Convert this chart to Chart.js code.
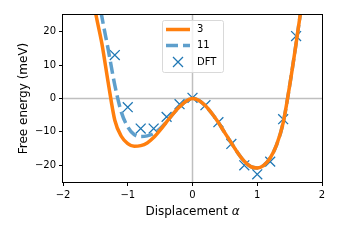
<!DOCTYPE html>
<html>
<head>
<meta charset="utf-8">
<script src="https://cdn.jsdelivr.net/npm/chart.js@4/dist/chart.umd.min.js"></script>
<style>
  html, body { margin: 0; padding: 0; background: #fff; }
  canvas { display: block; }
</style>
</head>
<body>
<canvas id="grafico" width="340" height="240"></canvas>
<script>
// --- Datos ---
const alphaFit3 = [-1.6, -1.5, -1.4, -1.3, -1.2, -1.1, -1.0, -0.9, -0.8, -0.7, -0.6, -0.5, -0.4, -0.3, -0.2, -0.1,
  0, 0.1, 0.2, 0.3, 0.4, 0.5, 0.6, 0.7, 0.8, 0.9, 1.0, 1.1, 1.2, 1.3, 1.4, 1.5, 1.6, 1.7]
const energiaFit3 = [38, 26, 16.5, 4.5, -6.5, -11.3, -13.5, -14.3, -14.1, -13.3, -11.7, -9.5, -7, -4.6, -2.5, -0.8,
  0, -0.6, -2.2, -4.5, -7.2, -10.3, -13.3, -16.3, -18.8, -20.4, -20.8, -20, -17.8, -13.8, -7.3, 3.8, 16.5, 30]

const alphaFit11 = [-1.5, -1.4, -1.3, -1.2, -1.1, -1.0, -0.9, -0.8, -0.7, -0.6, -0.5, -0.4, -0.3, -0.2, -0.1,
  0, 0.1, 0.2, 0.3, 0.4, 0.5, 0.6, 0.7, 0.8, 0.9, 1.0, 1.1, 1.2, 1.3, 1.4, 1.5, 1.6, 1.7]
const energiaFit11 = [36, 24.5, 14.5, 4, -4, -8.5, -10.8, -11.4, -11.2, -10.5, -9, -7, -4.6, -2.5, -0.8,
  0, -0.6, -2.2, -4.5, -7.2, -10.3, -13.3, -16.3, -18.8, -20.4, -20.8, -20, -17.8, -13.8, -7.3, 3.8, 16.5, 30]

const alphaDFT = [-1.2, -1.0, -0.8, -0.6, -0.4, -0.2, 0, 0.2, 0.4, 0.6, 0.8, 1.0, 1.2, 1.4, 1.6]
const energiaDFT = [13.0, -2.6, -9.0, -9.0, -5.5, -1.7, 0.2, -2.0, -7.1, -13.6, -20.0, -22.7, -18.9, -6.2, 18.7]

const ticksX = [-2, -1, 0, 1, 2]
const ticksY = [-20, -10, 0, 10, 20]

const NARANJA = '#ff7f0e'
const AZUL = '#1f77b4'
const AZUL_CLARO = '#5e9fcc'
const FUENTE = "'DejaVu Sans', sans-serif"

const puntos = (xs, ys) => xs.map((x, i) => ({ x, y: ys[i] }))
const conMenos = v => String(v).replace('-', '\u2212')

// Marco tipo matplotlib + líneas en cero + título del eje x con alfa en cursiva
const marco = {
  id: 'marco',
  beforeDatasetsDraw(chart) {
    const { ctx, chartArea: a, scales: { x, y } } = chart
    ctx.save()
    ctx.strokeStyle = '#bfbfbf'
    ctx.lineWidth = 1.5
    const x0 = x.getPixelForValue(0)
    const y0 = y.getPixelForValue(0)
    ctx.beginPath()
    ctx.moveTo(a.left, y0); ctx.lineTo(a.right, y0)
    ctx.moveTo(x0, a.top); ctx.lineTo(x0, a.bottom)
    ctx.stroke()
    ctx.restore()
  },
  afterDraw(chart) {
    const { ctx, chartArea: a } = chart
    ctx.save()
    ctx.strokeStyle = '#000'
    ctx.lineWidth = 1
    ctx.strokeRect(Math.round(a.left) - 0.5, Math.round(a.top) - 0.5, Math.round(a.right - a.left) + 1, Math.round(a.bottom - a.top) + 1)

    // Título eje x
    ctx.fillStyle = '#000'
    ctx.textBaseline = 'middle'
    const t1 = 'Displacement '
    const t2 = '\u03b1'
    ctx.font = '12px ' + FUENTE
    const w1 = ctx.measureText(t1).width
    ctx.font = 'italic 12px ' + FUENTE
    const w2 = ctx.measureText(t2).width
    const cx = (a.left + a.right) / 2
    const x1 = cx - (w1 + w2) / 2
    ctx.font = '12px ' + FUENTE
    ctx.fillText(t1, x1, 212)
    ctx.font = 'italic 12px ' + FUENTE
    ctx.fillText(t2, x1 + w1, 212)

    // Leyenda
    const bx = 162, by = 20, bw = 61, bh = 52
    ctx.globalAlpha = 0.8
    ctx.fillStyle = '#fff'
    ctx.beginPath()
    ctx.roundRect(bx + 0.5, by + 0.5, bw, bh, 2)
    ctx.fill()
    ctx.globalAlpha = 1
    ctx.strokeStyle = '#d9d9d9'
    ctx.lineWidth = 1
    ctx.stroke()
    const filas = [by + 9.5, by + 25.5, by + 42]
    chart.data.datasets.forEach((ds, i) => {
      const yy = filas[i]
      if (ds.showLine) {
        ctx.strokeStyle = ds.borderColor
        ctx.lineWidth = ds.borderWidth
        ctx.setLineDash(ds.borderDash || [])
        ctx.beginPath()
        ctx.moveTo(166, yy); ctx.lineTo(190, yy)
        ctx.stroke()
        ctx.setLineDash([])
      } else {
        const r = 5
        ctx.strokeStyle = ds.borderColor
        ctx.lineWidth = 1.3
        ctx.beginPath()
        ctx.moveTo(178 - r, yy - r); ctx.lineTo(178 + r, yy + r)
        ctx.moveTo(178 - r, yy + r); ctx.lineTo(178 + r, yy - r)
        ctx.stroke()
      }
      ctx.fillStyle = '#000'
      ctx.font = '10px ' + FUENTE
      ctx.textBaseline = 'middle'
      ctx.fillText(ds.label, 197, yy)
    })
    ctx.restore()
  }
}

new Chart(document.getElementById('grafico'), {
  type: 'scatter',
  data: {
    datasets: [{
      label: '3',
      data: puntos(alphaFit3, energiaFit3),
      showLine: true,
      borderColor: NARANJA,
      borderWidth: 3.5,
      pointRadius: 0,
      cubicInterpolationMode: 'monotone'
    }, {
      label: '11',
      data: puntos(alphaFit11, energiaFit11),
      showLine: true,
      borderColor: AZUL_CLARO,
      borderWidth: 3.5,
      borderDash: [12, 5],
      pointRadius: 0,
      cubicInterpolationMode: 'monotone'
    }, {
      label: 'DFT',
      data: puntos(alphaDFT, energiaDFT),
      showLine: false,
      borderColor: AZUL,
      backgroundColor: AZUL,
      pointStyle: 'crossRot',
      pointRadius: 7,
      borderWidth: 1.3
    }]
  },
  options: {
    responsive: false,
    animation: false,
    layout: { padding: { top: 15, right: 18, left: 0, bottom: 0 } },
    plugins: { legend: { display: false }, tooltip: { enabled: false } },
    scales: {
      x: {
        min: -2, max: 2,
        afterFit: s => { s.height = 58 },
        afterBuildTicks: s => { s.ticks = ticksX.map(v => ({ value: v })) },
        grid: { drawOnChartArea: false, tickLength: 4, color: '#000', tickWidth: 1 },
        border: { display: false },
        ticks: { color: '#000', font: { family: FUENTE, size: 10 }, padding: 3, maxRotation: 0, callback: v => conMenos(v) },
        title: { display: false }
      },
      y: {
        min: -25, max: 25,
        afterFit: s => { s.width = 63 },
        afterBuildTicks: s => { s.ticks = ticksY.map(v => ({ value: v })) },
        grid: { drawOnChartArea: false, tickLength: 4, color: '#000', tickWidth: 1 },
        border: { display: false },
        ticks: { color: '#000', font: { family: FUENTE, size: 10 }, padding: 3, callback: v => conMenos(v) },
        title: { display: true, text: 'Free energy (meV)', color: '#000', font: { family: FUENTE, size: 12 }, padding: { top: 17 } }
      }
    }
  },
  plugins: [marco]
})
</script>
</body>
</html>
